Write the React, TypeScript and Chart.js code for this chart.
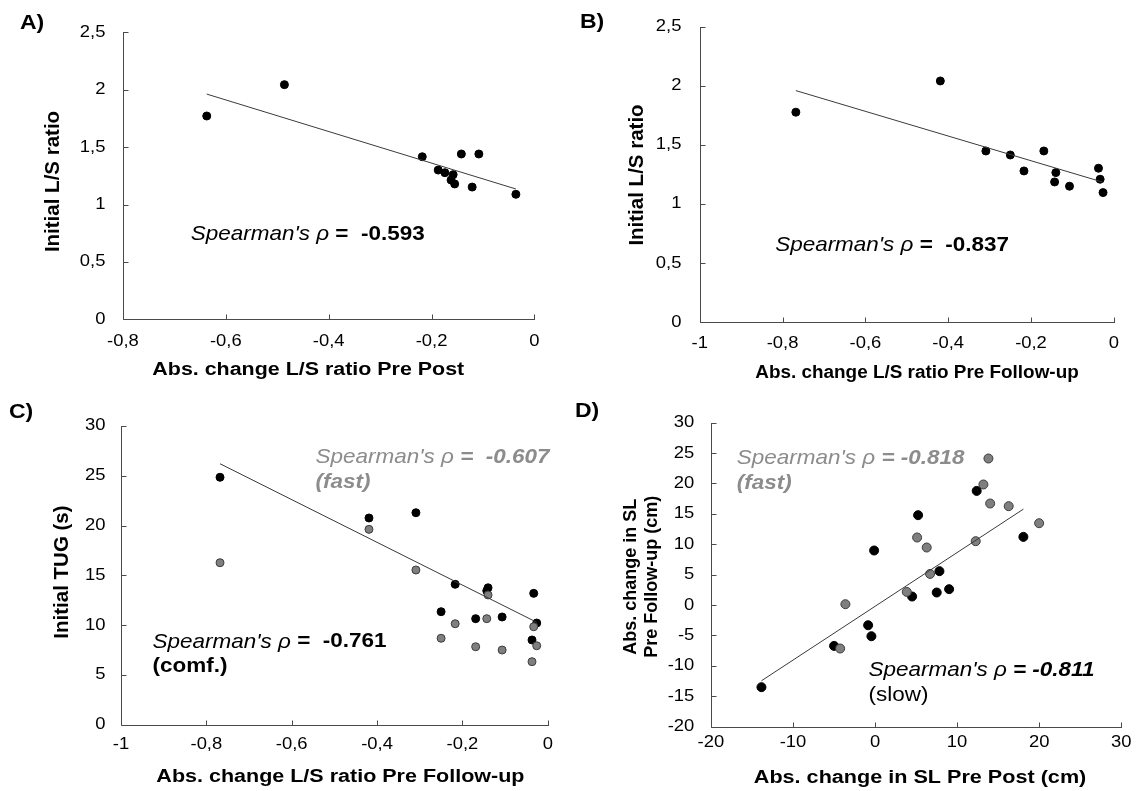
import React, { useEffect, useRef } from 'react';
import { Chart, registerables } from 'chart.js';

Chart.register(...registerables);

// ---------- Panel A: initial L/S ratio vs. change Pre -> Post
const changePrePostA = [-0.637, -0.486, -0.218, -0.187, -0.174, -0.158, -0.162, -0.155, -0.142, -0.121, -0.108, -0.036];
const initialRatioA = [1.771, 2.044, 1.416, 1.3, 1.277, 1.26, 1.213, 1.179, 1.44, 1.152, 1.44, 1.089];

// ---------- Panel B: initial L/S ratio vs. change Pre -> Follow-up
const changeFollowUpB = [-0.768, -0.419, -0.309, -0.25, -0.217, -0.169, -0.14, -0.143, -0.107, -0.037, -0.033, -0.026];
const initialRatioB = [1.777, 2.041, 1.449, 1.415, 1.28, 1.449, 1.266, 1.187, 1.151, 1.303, 1.21, 1.097];

// ---------- Panel C: initial TUG (comfortable / fast) vs. change Pre -> Follow-up
const changeFollowUpComf = [-0.768, -0.419, -0.309, -0.217, -0.14, -0.143, -0.25, -0.169, -0.107, -0.033, -0.026, -0.037];
const tugComf = [24.85, 20.76, 21.29, 14.1, 13.75, 13.45, 11.35, 10.65, 10.82, 13.19, 10.21, 8.51];
const changeFollowUpFast = [-0.768, -0.419, -0.309, -0.217, -0.14, -0.25, -0.169, -0.143, -0.107, -0.033, -0.026, -0.037];
const tugFast = [16.27, 19.62, 15.54, 10.14, 13.03, 8.68, 7.83, 10.65, 7.5, 9.84, 7.93, 6.33];

// ---------- Panel D: step length change, Pre -> Post vs. Pre -> Follow-up (slow / fast)
const slPrePostSlow = [-13.84, -4.99, -0.84, -0.44, -0.11, 4.52, 5.25, 7.52, 7.85, 9.03, 12.39, 18.08];
const slFollowUpSlow = [-13.5, -6.71, -3.31, -5.12, 8.98, 1.41, 14.79, 2.07, 5.58, 2.62, 18.78, 11.22];
const slPrePostFast = [-3.61, -4.25, 3.87, 5.13, 6.3, 6.71, 12.27, 13.21, 13.82, 14.03, 16.29, 20.0];
const slFollowUpFast = [0.15, -7.14, 2.17, 11.12, 9.47, 5.13, 10.51, 19.84, 24.11, 16.71, 16.27, 13.47];

// ---------- Axis ticks
const ratioTicks = [0, 0.5, 1, 1.5, 2, 2.5];
const changeTicksA = [-0.8, -0.6, -0.4, -0.2, 0];
const changeTicksBC = [-1, -0.8, -0.6, -0.4, -0.2, 0];
const tugTicks = [0, 5, 10, 15, 20, 25, 30];
const slPrePostTicks = [-20, -10, 0, 10, 20, 30];
const slFollowUpTicks = [-20, -15, -10, -5, 0, 5, 10, 15, 20, 25, 30];

const FONT = '"Liberation Sans", Arial, Helvetica, sans-serif';
const AXIS_COLOR = '#4a4a4a';
const GRAY_TEXT = '#8c8c8c';
const TICK_LEN = 5;
const TICK_SIZE = 16;
const NOTE_SIZE = 21;
const NOTE_LEAD = 25;

type Seg = { text: string; italic?: boolean; bold?: boolean };
type Note = { x: number; y: number; color: string; stretch: number; lines: Seg[][] };
type Series = { xs: number[]; ys: number[]; fill: string; border: string };
type PanelDef = {
  letter: string;
  letterAt: [number, number];
  box: { left: number; top: number; width: number; height: number };
  pad: { left: number; top: number; right: number; bottom: number };
  xTicks: number[];
  yTicks: number[];
  xLabelDy: number;
  yLabelGap: number;
  xTitle: string;
  xTitleDx: number;
  xTitleDy: number;
  xTitleStretch: number;
  yTitle: string[];
  yTitleDx: number[];
  yTitleDy: number;
  yTitleSize: number;
  series: Series[];
  fitSeries: number;
  radius: number;
  notes: Note[];
};

const fmt = (v: number) => String(Number(v.toFixed(2))).replace('.', ',');

// least-squares line through one series, spanning its x range
function fitLine(xs: number[], ys: number[]) {
  const n = xs.length;
  const mx = xs.reduce((s, v) => s + v, 0) / n;
  const my = ys.reduce((s, v) => s + v, 0) / n;
  let sxy = 0;
  let sxx = 0;
  for (let i = 0; i < n; i++) {
    sxy += (xs[i] - mx) * (ys[i] - my);
    sxx += (xs[i] - mx) * (xs[i] - mx);
  }
  const b = sxy / sxx;
  const a = my - b * mx;
  const x0 = Math.min(...xs);
  const x1 = Math.max(...xs);
  return [
    { x: x0, y: a + b * x0 },
    { x: x1, y: a + b * x1 },
  ];
}

function stretchText(ctx: CanvasRenderingContext2D, text: string, x: number, y: number, sx: number) {
  ctx.save();
  ctx.translate(x, y);
  ctx.scale(sx, 1);
  ctx.fillText(text, 0, 0);
  ctx.restore();
}

function makeDecor(def: PanelDef) {
  return {
    id: 'decor' + def.letter,
    afterDraw(chart: any) {
      const ctx: CanvasRenderingContext2D = chart.ctx;
      const a = chart.chartArea;
      const xs = chart.scales.x;
      const ys = chart.scales.y;
      ctx.save();

      // axis lines with inward tick marks
      const left = Math.round(a.left) + 0.5;
      const bottom = Math.round(a.bottom) + 0.5;
      ctx.strokeStyle = AXIS_COLOR;
      ctx.lineWidth = 1;
      ctx.beginPath();
      ctx.moveTo(left, Math.round(a.top));
      ctx.lineTo(left, bottom);
      ctx.lineTo(Math.round(a.right) + 1, bottom);
      def.xTicks.forEach((v) => {
        const px = Math.round(xs.getPixelForValue(v)) + 0.5;
        ctx.moveTo(px, bottom);
        ctx.lineTo(px, bottom - TICK_LEN);
      });
      def.yTicks.forEach((v) => {
        const py = Math.round(ys.getPixelForValue(v)) + 0.5;
        ctx.moveTo(left, py);
        ctx.lineTo(left + TICK_LEN, py);
      });
      ctx.stroke();

      // tick labels
      ctx.fillStyle = '#000';
      ctx.textBaseline = 'middle';
      ctx.font = `${TICK_SIZE}px ${FONT}`;
      ctx.textAlign = 'center';
      def.xTicks.forEach((v) => stretchText(ctx, fmt(v), xs.getPixelForValue(v), a.bottom + def.xLabelDy, 1.15));
      ctx.textAlign = 'right';
      def.yTicks.forEach((v) => stretchText(ctx, fmt(v), a.left - def.yLabelGap, ys.getPixelForValue(v), 1.15));

      // axis titles
      ctx.font = `bold 18px ${FONT}`;
      ctx.textAlign = 'center';
      stretchText(ctx, def.xTitle, (a.left + a.right) / 2 + def.xTitleDx, a.bottom + def.xTitleDy, def.xTitleStretch);
      ctx.font = `bold ${def.yTitleSize}px ${FONT}`;
      def.yTitle.forEach((line, i) => {
        ctx.save();
        ctx.translate(a.left + def.yTitleDx[i], (a.top + a.bottom) / 2 + def.yTitleDy);
        ctx.rotate(-Math.PI / 2);
        ctx.fillText(line, 0, 0);
        ctx.restore();
      });

      // panel letter
      ctx.font = `bold 20px ${FONT}`;
      ctx.textAlign = 'left';
      stretchText(ctx, def.letter, def.letterAt[0], def.letterAt[1], 1.15);

      // correlation notes
      def.notes.forEach((note) => {
        const x0 = xs.getPixelForValue(note.x);
        const y0 = ys.getPixelForValue(note.y);
        ctx.fillStyle = note.color;
        note.lines.forEach((segs, li) => {
          let x = x0;
          const y = y0 + li * NOTE_LEAD;
          segs.forEach((seg) => {
            ctx.font = `${seg.italic ? 'italic ' : ''}${seg.bold ? 'bold ' : ''}${NOTE_SIZE}px ${FONT}`;
            stretchText(ctx, seg.text, x, y, note.stretch);
            x += ctx.measureText(seg.text).width * note.stretch;
          });
        });
      });
      ctx.restore();
    },
  };
}

const BLACK = { fill: '#000000', border: '#000000' };
const GRAY = { fill: '#7f7f7f', border: '#3c3c3c' };

const panels: PanelDef[] = [
  {
    letter: 'A)',
    letterAt: [20, 23],
    box: { left: 0, top: 0, width: 568, height: 395 },
    pad: { left: 122.9, top: 32.3, right: 33.6, bottom: 75.7 },
    xTicks: changeTicksA,
    yTicks: ratioTicks,
    xLabelDy: 22.4,
    yLabelGap: 17.5,
    xTitle: 'Abs. change L/S ratio Pre Post',
    xTitleDx: -20.4,
    xTitleDy: 50.7,
    xTitleStretch: 1.19,
    yTitle: ['Initial L/S ratio'],
    yTitleDx: [-69.4],
    yTitleDy: 5.7,
    yTitleSize: 20.5,
    series: [{ xs: changePrePostA, ys: initialRatioA, ...BLACK }],
    fitSeries: 0,
    radius: 4,
    notes: [
      {
        x: -0.668,
        y: 0.743,
        color: '#000',
        stretch: 1.07,
        lines: [[{ text: "Spearman's ρ ", italic: true }, { text: '=  -0.593', bold: true }]],
      },
    ],
  },
  {
    letter: 'B)',
    letterAt: [12, 22.5],
    box: { left: 568, top: 0, width: 569, height: 395 },
    pad: { left: 131.8, top: 26.7, right: 23.2, bottom: 72.7 },
    xTicks: changeTicksBC,
    yTicks: ratioTicks,
    xLabelDy: 21,
    yLabelGap: 18.4,
    xTitle: 'Abs. change L/S ratio Pre Follow-up',
    xTitleDx: 10.2,
    xTitleDy: 50.7,
    xTitleStretch: 1.05,
    yTitle: ['Initial L/S ratio'],
    yTitleDx: [-62.8],
    yTitleDy: 0.5,
    yTitleSize: 20.5,
    series: [{ xs: changeFollowUpB, ys: initialRatioB, ...BLACK }],
    fitSeries: 0,
    radius: 4,
    notes: [
      {
        x: -0.818,
        y: 0.654,
        color: '#000',
        stretch: 1.07,
        lines: [[{ text: "Spearman's ρ ", italic: true }, { text: '=  -0.837', bold: true }]],
      },
    ],
  },
  {
    letter: 'C)',
    letterAt: [9, 17],
    box: { left: 0, top: 395, width: 568, height: 396 },
    pad: { left: 121, top: 31, right: 20.2, bottom: 66.3 },
    xTicks: changeTicksBC,
    yTicks: tugTicks,
    xLabelDy: 20.3,
    yLabelGap: 15.6,
    xTitle: 'Abs. change L/S ratio Pre Follow-up',
    xTitleDx: 6,
    xTitleDy: 52,
    xTitleStretch: 1.195,
    yTitle: ['Initial TUG (s)'],
    yTitleDx: [-59],
    yTitleDy: -3.3,
    yTitleSize: 20.5,
    series: [
      { xs: changeFollowUpFast, ys: tugFast, ...GRAY },
      { xs: changeFollowUpComf, ys: tugComf, ...BLACK },
    ],
    fitSeries: 1,
    radius: 4,
    notes: [
      {
        x: -0.544,
        y: 26.9,
        color: GRAY_TEXT,
        stretch: 1.07,
        lines: [
          [{ text: "Spearman's ρ ", italic: true }, { text: '=  -0.607', italic: true, bold: true }],
          [{ text: '(fast)', italic: true, bold: true }],
        ],
      },
      {
        x: -0.926,
        y: 8.34,
        color: '#000',
        stretch: 1.07,
        lines: [
          [{ text: "Spearman's ρ ", italic: true }, { text: '=  -0.761', bold: true }],
          [{ text: '(comf.)', bold: true }],
        ],
      },
    ],
  },
  {
    letter: 'D)',
    letterAt: [7, 16],
    box: { left: 568, top: 395, width: 569, height: 396 },
    pad: { left: 142.9, top: 27.7, right: 15.8, bottom: 64.3 },
    xTicks: slPrePostTicks,
    yTicks: slFollowUpTicks,
    xLabelDy: 15.7,
    yLabelGap: 16.6,
    xTitle: 'Abs. change in SL Pre Post (cm)',
    xTitleDx: 4,
    xTitleDy: 51.3,
    xTitleStretch: 1.2,
    yTitle: ['Abs. change in SL', 'Pre Follow-up (cm)'],
    yTitleDx: [-80.1, -59.3],
    yTitleDy: 2,
    yTitleSize: 18,
    series: [
      { xs: slPrePostFast, ys: slFollowUpFast, ...GRAY },
      { xs: slPrePostSlow, ys: slFollowUpSlow, ...BLACK },
    ],
    fitSeries: 1,
    radius: 4.5,
    notes: [
      {
        x: -16.84,
        y: 24.2,
        color: GRAY_TEXT,
        stretch: 1.07,
        lines: [
          [{ text: "Spearman's ρ ", italic: true }, { text: '= -0.818', italic: true, bold: true }],
          [{ text: '(fast)', italic: true, bold: true }],
        ],
      },
      {
        x: -0.8,
        y: -10.7,
        color: '#000',
        stretch: 1.07,
        lines: [
          [{ text: "Spearman's ρ ", italic: true }, { text: '= -0.811', italic: true, bold: true }],
          [{ text: '(slow)' }],
        ],
      },
    ],
  },
];

function Panel({ def }: { def: PanelDef }) {
  const ref = useRef<HTMLCanvasElement>(null);

  useEffect(() => {
    if (!ref.current) return;
    const fit = def.series[def.fitSeries];
    const datasets: any[] = def.series.map((s) => ({
      data: s.xs.map((x, i) => ({ x, y: s.ys[i] })),
      backgroundColor: s.fill,
      borderColor: s.border,
      borderWidth: 1,
      pointRadius: def.radius,
      pointHoverRadius: def.radius,
    }));
    datasets.unshift({
      data: fitLine(fit.xs, fit.ys),
      showLine: true,
      borderColor: '#3a3a3a',
      borderWidth: 1,
      pointRadius: 0,
      fill: false,
    });
    const chart = new Chart(ref.current, {
      type: 'scatter',
      data: { datasets },
      options: {
        animation: false,
        responsive: false,
        devicePixelRatio: 1,
        layout: { padding: def.pad },
        plugins: { legend: { display: false }, tooltip: { enabled: false } },
        scales: {
          x: {
            type: 'linear',
            display: false,
            min: def.xTicks[0],
            max: def.xTicks[def.xTicks.length - 1],
          },
          y: {
            type: 'linear',
            display: false,
            min: def.yTicks[0],
            max: def.yTicks[def.yTicks.length - 1],
          },
        },
      },
      plugins: [makeDecor(def)],
    });
    return () => chart.destroy();
  }, [def]);

  return (
    <canvas
      ref={ref}
      width={def.box.width}
      height={def.box.height}
      style={{ position: 'absolute', left: def.box.left, top: def.box.top }}
    />
  );
}

export default function App() {
  return (
    <div
      style={{
        position: 'absolute',
        left: 0,
        top: 0,
        width: 1137,
        height: 791,
        background: '#ffffff',
        overflow: 'hidden',
      }}
    >
      {panels.map((p) => (
        <Panel key={p.letter} def={p} />
      ))}
    </div>
  );
}
